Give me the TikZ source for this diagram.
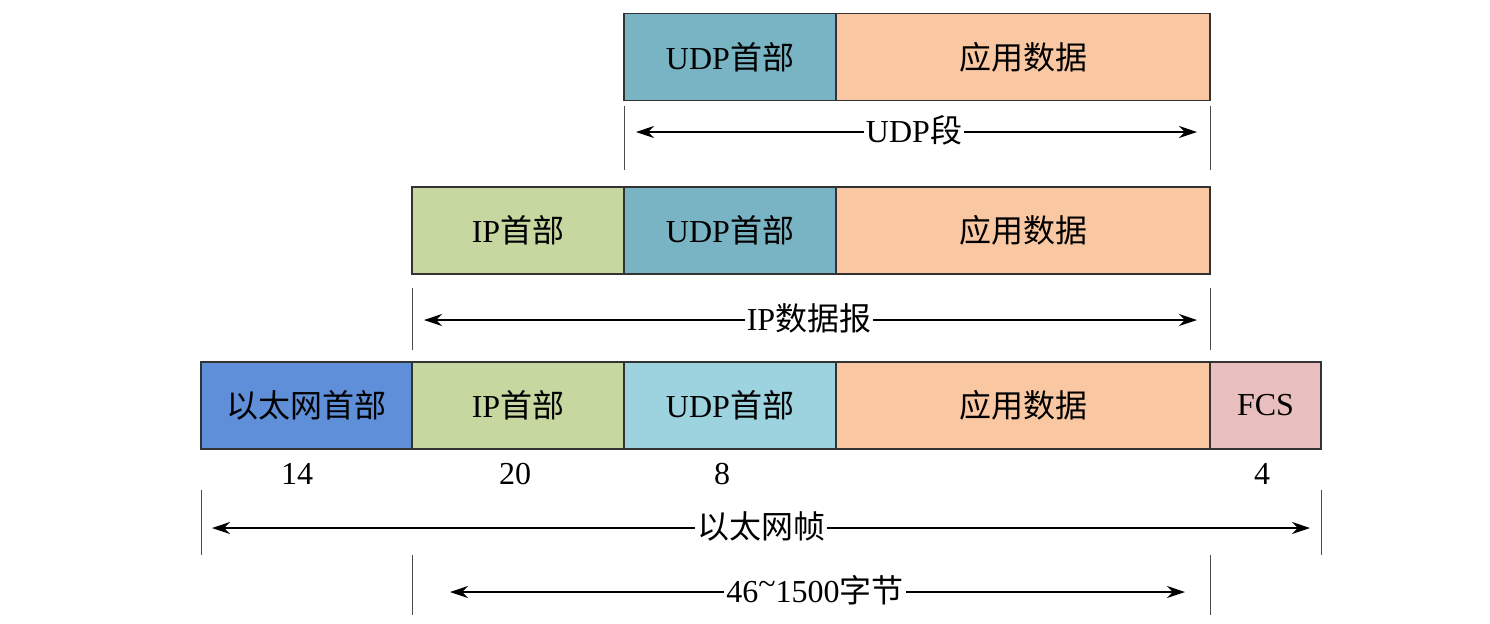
\documentclass[tikz,border=0pt]{standalone}
\usepackage{fontspec}
\setmainfont{Liberation Serif}
\newfontfamily\cjk{Noto Sans CJK SC}
\usetikzlibrary{arrows.meta}
\definecolor{cudp}{HTML}{78B4C4}
\definecolor{cudpl}{HTML}{9DD2DF}
\definecolor{capp}{HTML}{F9C7A1}
\definecolor{cip}{HTML}{C6D8A0}
\definecolor{ceth}{HTML}{5E8FD8}
\definecolor{cfcs}{HTML}{E8BEBE}
\begin{document}
\begin{tikzpicture}[x=0.5pt,y=-0.5pt,
  seg/.style={draw=black!80,line width=0.6pt,minimum height=43.5pt,inner sep=0pt,font=\fontsize{16}{19}\selectfont},
  tick/.style={draw=black!70,line width=0.5pt},
  dim/.style={draw=black,line width=0.6pt,{Stealth[length=9pt,width=6pt]}-{Stealth[length=9pt,width=6pt]}},
  lbl/.style={fill=white,inner sep=1pt,font=\fontsize{16}{19}\selectfont},
  num/.style={font=\fontsize{16}{19}\selectfont}]
\useasboundingbox (0,0) rectangle (1490,623);
% row 1
\node[seg,fill=cudp,minimum width=106pt] (u1) at (730,57) {UDP{\cjk 首部}};
\node[seg,fill=capp,minimum width=187pt] (a1) at (1023,57) {\cjk 应用数据};
% row 2
\node[seg,fill=cip,minimum width=106pt] (i2) at (518,230.5) {IP{\cjk 首部}};
\node[seg,fill=cudp,minimum width=106pt] (u2) at (730,230.5) {UDP{\cjk 首部}};
\node[seg,fill=capp,minimum width=187pt] (a2) at (1023,230.5) {\cjk 应用数据};
% row 3
\node[seg,fill=ceth,minimum width=105.5pt] (e3) at (306.5,405.5) {\cjk 以太网首部};
\node[seg,fill=cip,minimum width=106pt] (i3) at (518,405.5) {IP{\cjk 首部}};
\node[seg,fill=cudpl,minimum width=106pt] (u3) at (730,405.5) {UDP{\cjk 首部}};
\node[seg,fill=capp,minimum width=187pt] (a3) at (1023,405.5) {\cjk 应用数据};
\node[seg,fill=cfcs,minimum width=55.5pt] (f3) at (1265.5,405.5) {FCS};
% numbers
\node[num] (n14) at (297,474) {14};
\node[num] (n20) at (515,474) {20};
\node[num] (n8) at (722,474) {8};
\node[num] (n4) at (1262,474) {4};
% ticks
\coordinate (t1a) at (624,106); \coordinate (t1b) at (624,170);
\coordinate (t1c) at (1210,106); \coordinate (t1d) at (1210,170);
\draw[tick] (t1a)--(t1b) (t1c)--(t1d);
\coordinate (t2a) at (412,288); \coordinate (t2b) at (412,350);
\coordinate (t2c) at (1210,288); \coordinate (t2d) at (1210,350);
\draw[tick] (t2a)--(t2b) (t2c)--(t2d);
\coordinate (t3a) at (201,490); \coordinate (t3b) at (201,555);
\coordinate (t3c) at (1321,490); \coordinate (t3d) at (1321,555);
\draw[tick] (t3a)--(t3b) (t3c)--(t3d);
\coordinate (t4a) at (412,555); \coordinate (t4b) at (412,615);
\coordinate (t4c) at (1210,555); \coordinate (t4d) at (1210,615);
\draw[tick] (t4a)--(t4b) (t4c)--(t4d);
% dimension arrows
\coordinate (d1l) at (636,132); \coordinate (d1r) at (1197,132);
\draw[dim] (d1l)--(d1r);
\node[lbl] (l1) at (914,130) {UDP{\cjk 段}};
\coordinate (d2l) at (424,320); \coordinate (d2r) at (1197,320);
\draw[dim] (d2l)--(d2r);
\node[lbl] (l2) at (809,318) {IP{\cjk 数据报}};
\coordinate (d3l) at (212,528); \coordinate (d3r) at (1310,528);
\draw[dim] (d3l)--(d3r);
\node[lbl] (l3) at (761,526) {\cjk 以太网帧};
\coordinate (d4l) at (450,592); \coordinate (d4r) at (1185,592);
\draw[dim] (d4l)--(d4r);
\node[lbl] (l4) at (815,590) {46\raisebox{0.5ex}{\textasciitilde}1500{\cjk 字节}};
\end{tikzpicture}
\end{document}
